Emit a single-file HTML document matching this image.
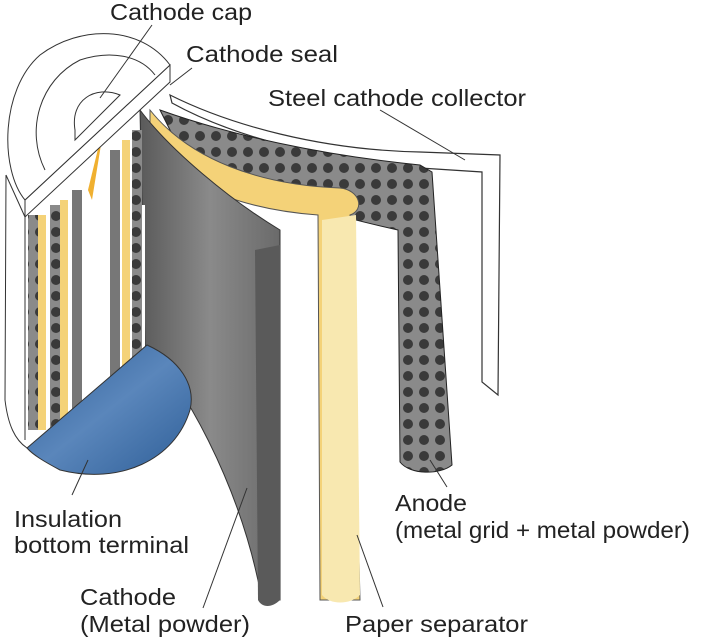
<!DOCTYPE html>
<html><head><meta charset="utf-8"><style>
html,body{margin:0;padding:0;background:#fff}
svg{display:block}
text{font-family:"Liberation Sans",sans-serif;font-size:23px;fill:#222}
</style></head><body>
<svg width="705" height="637" viewBox="0 0 705 637" xmlns="http://www.w3.org/2000/svg">
<defs>
<pattern id="dots" width="16" height="16" patternUnits="userSpaceOnUse">
<rect width="16" height="16" fill="#8a8a8a"/>
<circle cx="8" cy="8" r="5" fill="#3a3a3a"/>
</pattern>
<linearGradient id="gray" x1="0" x2="1">
<stop offset="0" stop-color="#5a5a5a"/><stop offset="0.5" stop-color="#8a8a8a"/><stop offset="1" stop-color="#6a6a6a"/>
</linearGradient>
<linearGradient id="blue" x1="0" y1="0" x2="1" y2="1">
<stop offset="0" stop-color="#2f5f98"/><stop offset="0.5" stop-color="#5a86bb"/><stop offset="1" stop-color="#2f5f98"/>
</linearGradient>
</defs>
<path d="M170 95 C230 125 320 150 420 152 L500 155 L498 395 L482 382 L482 172 L420 168 C320 160 230 135 172 103 Z" fill="#fff" stroke="#333" stroke-width="1.2"/>
<path d="M160 110 C230 135 320 155 420 165 L432 172 L452 465 C440 475 410 475 400 462 L398 230 C330 215 240 190 180 150 Z" fill="url(#dots)" stroke="#222"/>
<path d="M150 110 C190 160 260 185 340 188 C360 190 365 210 350 215 L360 600 L320 600 L318 215 C250 210 190 190 150 150 Z" fill="#f4d278" stroke="#555"/>
<path d="M322 220 L356 215 L360 595 C350 605 330 605 322 595 Z" fill="#f8e8b0"/>
<path d="M140 110 C170 150 230 200 280 230 L280 600 L262 600 C240 480 180 380 145 345 Z" fill="url(#gray)" stroke="#333"/>
<path d="M255 250 L280 245 L280 600 C272 608 262 608 258 600 Z" fill="#5a5a5a"/>
<rect x="25" y="205" width="120" height="225" fill="#fff"/>
<g>
<rect x="28" y="215" width="10" height="215" fill="url(#dots)"/>
<rect x="38" y="215" width="8" height="215" fill="#f4d278"/>
<rect x="50" y="205" width="10" height="225" fill="url(#dots)"/>
<rect x="60" y="200" width="8" height="230" fill="#f4d278"/>
<rect x="72" y="190" width="10" height="240" fill="#777"/>
<rect x="110" y="150" width="10" height="280" fill="#777"/>
<rect x="122" y="140" width="8" height="290" fill="#f4d278"/>
<rect x="132" y="130" width="10" height="300" fill="url(#dots)"/>
</g>
<line x1="25" y1="215" x2="25" y2="440" stroke="#333"/>
<path d="M6 175 L5 400 C8 425 15 440 27 448" fill="none" stroke="#333"/>
<polygon points="88,190 105,120 92,200" fill="#f0b030"/>
<path d="M27 448 L147 345 C180 360 196 385 190 410 C175 460 120 485 60 470 C45 462 33 455 27 448 Z" fill="url(#blue)" stroke="#333"/>
<path d="M25 200 L170 65 L170 82 L25 217 Z" fill="#fff" stroke="#333"/>
<path d="M25 200 C0 170 0 90 40 55 C80 25 140 25 170 65 Z" fill="#fff" stroke="#333"/>
<path d="M6 175 L25 217" fill="none" stroke="#333"/>
<path d="M45 170 C25 130 40 80 80 60 C110 50 140 55 155 75" fill="none" stroke="#333"/>
<path d="M75 130 C70 100 95 85 120 95 L75 140 Z" fill="#fff" stroke="#333"/>
<g stroke="#333" stroke-width="1" fill="none">
<line x1="152" y1="25" x2="100" y2="98"/>
<line x1="192" y1="68" x2="170" y2="85"/>
<line x1="380" y1="110" x2="465" y2="160"/>
<line x1="72" y1="495" x2="88" y2="460"/>
<line x1="447" y1="487" x2="430" y2="460"/>
<line x1="203" y1="608" x2="247" y2="488"/>
<line x1="383" y1="607" x2="357" y2="535"/>
</g>
<text x="110" y="20" textLength="142" lengthAdjust="spacingAndGlyphs">Cathode cap</text>
<text x="186" y="62" textLength="152" lengthAdjust="spacingAndGlyphs">Cathode seal</text>
<text x="268" y="106" textLength="258" lengthAdjust="spacingAndGlyphs">Steel cathode collector</text>
<text x="14" y="527" textLength="108" lengthAdjust="spacingAndGlyphs">Insulation</text>
<text x="14" y="553" textLength="175" lengthAdjust="spacingAndGlyphs">bottom terminal</text>
<text x="395" y="511" textLength="72" lengthAdjust="spacingAndGlyphs">Anode</text>
<text x="395" y="538" textLength="295" lengthAdjust="spacingAndGlyphs">(metal grid + metal powder)</text>
<text x="80" y="605" textLength="96" lengthAdjust="spacingAndGlyphs">Cathode</text>
<text x="80" y="632" textLength="170" lengthAdjust="spacingAndGlyphs">(Metal powder)</text>
<text x="345" y="632" textLength="183" lengthAdjust="spacingAndGlyphs">Paper separator</text>
</svg>
</body></html>
